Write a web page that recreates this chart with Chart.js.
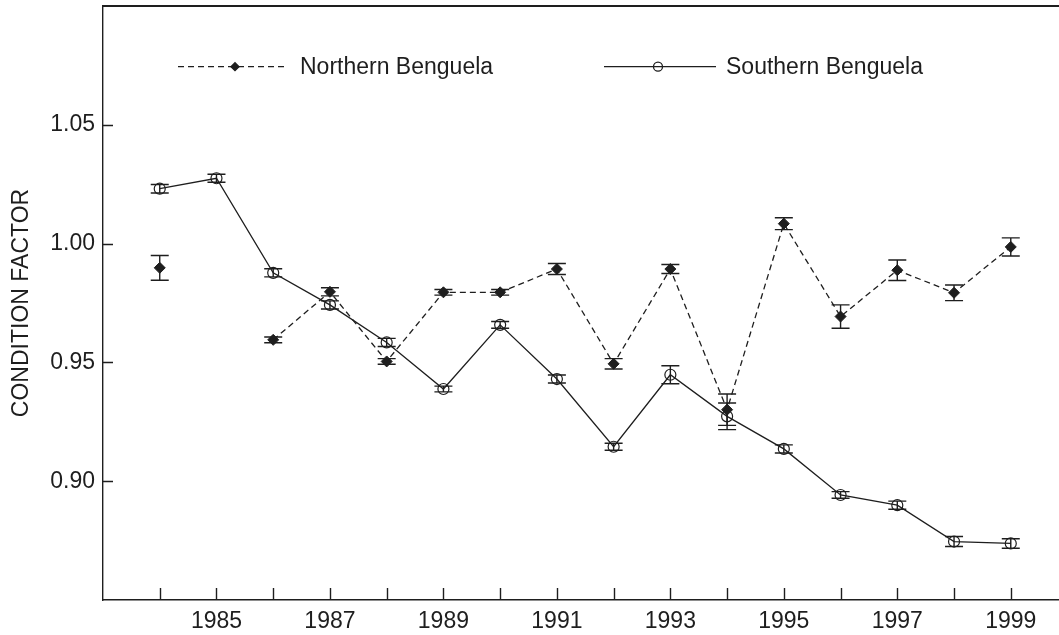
<!DOCTYPE html>
<html>
<head>
<meta charset="utf-8">
<title>Condition factor, Benguela</title>
<script src="https://cdn.jsdelivr.net/npm/chart.js@4/dist/chart.umd.min.js"></script>
<style>
  html, body { margin: 0; padding: 0; background: #ffffff; }
  canvas { display: block; }
</style>
</head>
<body>
<canvas id="chart" width="1059" height="635"></canvas>
<script>
// Survey years
const years = [1984, 1985, 1986, 1987, 1988, 1989, 1990, 1991,
               1992, 1993, 1994, 1995, 1996, 1997, 1998, 1999];

// Mean condition factor and half-width of error bar per year
const northern    = [0.9898, null,   0.9595, 0.9797, 0.9504, 0.9795, 0.9795, 0.9893,
                     0.9494, 0.9893, 0.9301, 1.0084, 0.9693, 0.9888, 0.9793, 0.9986];
const northernErr = [0.0052, null,   0.0012, 0.0017, 0.0012, 0.0012, 0.0012, 0.0023,
                     0.0022, 0.0019, 0.0066, 0.0025, 0.0049, 0.0043, 0.0033, 0.0038];
const southern    = [1.0231, 1.0275, 0.9877, 0.9742, 0.9584, 0.9388, 0.9658, 0.9430,
                     0.9145, 0.9448, 0.9273, 0.9136, 0.8942, 0.8899, 0.8746, 0.8738];
const southernErr = [0.0018, 0.0017, 0.0017, 0.0017, 0.0017, 0.0012, 0.0014, 0.0017,
                     0.0015, 0.0038, 0.0056, 0.0017, 0.0014, 0.0017, 0.0021, 0.0020];

// Axis ticks
const yTickValues = [0.90, 0.95, 1.00, 1.05];
const xTickValues = years;
const xLabelYears = [1985, 1987, 1989, 1991, 1993, 1995, 1997, 1999];

const seriesNames = ['Northern Benguela', 'Southern Benguela'];

const INK = '#1e1e1e';
const FONT = '"Liberation Sans", Arial, Helvetica, sans-serif';
Chart.defaults.font.family = FONT;
Chart.defaults.color = INK;

const toPoints = (vals) => years.map((yr, i) => ({ x: yr, y: vals[i] }));

// Vertical error bars with caps, drawn from each dataset's errors array
const errorBarPlugin = {
  id: 'errorBars',
  beforeDatasetsDraw(chart) {
    const { ctx, scales: { x, y } } = chart;
    ctx.save();
    ctx.strokeStyle = INK;
    ctx.lineWidth = 1.4;
    chart.data.datasets.forEach((ds) => {
      const errs = ds.errors || [];
      ds.data.forEach((p, i) => {
        if (p.y == null || errs[i] == null) return;
        const px = x.getPixelForValue(p.x);
        const top = y.getPixelForValue(p.y + errs[i]);
        const bot = y.getPixelForValue(p.y - errs[i]);
        const cap = 9;
        ctx.beginPath();
        ctx.moveTo(px, top); ctx.lineTo(px, bot);
        ctx.moveTo(px - cap, top); ctx.lineTo(px + cap, top);
        ctx.moveTo(px - cap, bot); ctx.lineTo(px + cap, bot);
        ctx.stroke();
      });
    });
    ctx.restore();
  }
};

// Frame top line, inward tick marks, and the in-plot legend
const framePlugin = {
  id: 'frame',
  afterDraw(chart, args, opts) {
    const { ctx, chartArea: a, scales: { x, y } } = chart;
    ctx.save();
    ctx.strokeStyle = INK;
    ctx.lineWidth = 2;
    ctx.beginPath();
    ctx.moveTo(a.left, a.top); ctx.lineTo(chart.width, a.top);
    ctx.stroke();

    ctx.lineWidth = 1.4;
    ctx.beginPath();
    yTickValues.forEach((v) => {
      const py = Math.round(y.getPixelForValue(v)) + 0.5;
      ctx.moveTo(a.left, py); ctx.lineTo(a.left + 10, py);
    });
    xTickValues.forEach((v) => {
      const px = Math.round(x.getPixelForValue(v)) + 0.5;
      ctx.moveTo(px, a.bottom); ctx.lineTo(px, a.bottom - 12);
    });
    ctx.stroke();

    // legend entries
    ctx.font = '23px ' + FONT;
    ctx.textBaseline = 'middle';
    opts.entries.forEach((e, k) => {
      const ds = chart.data.datasets[k];
      ctx.strokeStyle = INK;
      ctx.lineWidth = 1.3;
      ctx.setLineDash(ds.borderDash || []);
      ctx.beginPath();
      ctx.moveTo(e.x0, opts.y); ctx.lineTo(e.x1, opts.y);
      ctx.stroke();
      ctx.setLineDash([]);
      ctx.fillStyle = ds.pointBackgroundColor;
      Chart.helpers.drawPoint(ctx, {
        pointStyle: ds.pointStyle,
        radius: e.r,
        borderWidth: 1.2
      }, e.xm, opts.y);
      ctx.fillStyle = INK;
      ctx.fillText(seriesNames[k], e.xt, opts.y + 1);
    });
    ctx.restore();
  }
};

new Chart(document.getElementById('chart'), {
  type: 'line',
  data: {
    datasets: [
      {
        label: seriesNames[0],
        data: toPoints(northern),
        errors: northernErr,
        borderColor: INK,
        borderWidth: 1.3,
        borderDash: [6, 4],
        pointStyle: 'rectRot',
        pointRadius: 5.5,
        pointBackgroundColor: INK,
        pointBorderColor: INK,
        pointBorderWidth: 1,
        spanGaps: false,
        tension: 0
      },
      {
        label: seriesNames[1],
        data: toPoints(southern),
        errors: southernErr,
        borderColor: INK,
        borderWidth: 1.3,
        pointStyle: 'circle',
        pointRadius: 5.5,
        pointBackgroundColor: 'rgba(0,0,0,0)',
        pointBorderColor: INK,
        pointBorderWidth: 1.2,
        tension: 0
      }
    ]
  },
  options: {
    responsive: false,
    animation: false,
    events: [],
    layout: { autoPadding: false, padding: { top: 6, right: 0, left: 0, bottom: 0 } },
    plugins: {
      legend: { display: false },
      tooltip: { enabled: false },
      frame: {
        y: 66.7,
        entries: [
          { x0: 178, x1: 287, xm: 235, r: 4, xt: 300 },
          { x0: 604, x1: 716, xm: 658, r: 4.5, xt: 726 }
        ]
      }
    },
    scales: {
      x: {
        type: 'linear',
        min: 1983,
        max: 1999.85,
        grid: { display: false, drawTicks: false },
        border: { display: true, color: INK, width: 1.4 },
        afterBuildTicks(scale) {
          scale.ticks = xTickValues.map((v) => ({ value: v }));
        },
        afterFit(scale) {
          scale.height = 35;
          scale.paddingLeft = 0;
          scale.paddingRight = 0;
        },
        ticks: {
          autoSkip: false,
          maxRotation: 0,
          padding: 8,
          font: { size: 23 },
          color: INK,
          callback: (v) => (xLabelYears.includes(v) ? String(v) : '')
        }
      },
      y: {
        type: 'linear',
        min: 0.85,
        max: 1.10,
        grid: { display: false, drawTicks: false },
        border: { display: true, color: INK, width: 1.4 },
        afterBuildTicks(scale) {
          scale.ticks = yTickValues.map((v) => ({ value: v }));
        },
        afterFit(scale) {
          scale.width = 103;
          scale.paddingTop = 0;
          scale.paddingBottom = 0;
        },
        ticks: {
          padding: 8,
          font: { size: 23 },
          color: INK,
          callback: (v) => v.toFixed(2)
        },
        title: {
          display: true,
          text: 'CONDITION FACTOR',
          font: { size: 23 },
          color: INK,
          padding: { top: 8, bottom: 0 }
        }
      }
    }
  },
  plugins: [errorBarPlugin, framePlugin]
});
</script>
</body>
</html>
